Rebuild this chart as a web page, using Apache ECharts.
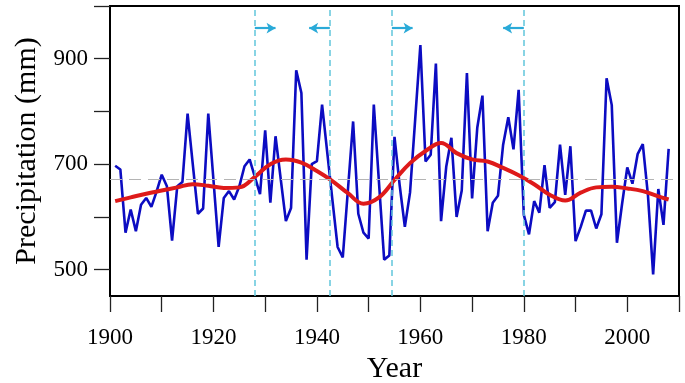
<!DOCTYPE html>
<html>
<head>
<meta charset="utf-8">
<script src="https://cdn.jsdelivr.net/npm/echarts@6/dist/echarts.min.js"></script>
<style>
  html, body { margin: 0; padding: 0; background: #fff; }
  #chart { width: 685px; height: 383px; }
</style>
</head>
<body>
<div id="chart"></div>
<script>
// annual precipitation, 1901 - 2008 (mm)
var firstYear = 1901;
var precip = [
  697, 690, 570, 614, 573, 623, 636, 619, 648, 680,
  658, 555, 658, 666, 796, 700, 606, 616, 796, 670,
  543, 636, 649, 633, 658, 696, 709, 676, 643, 764,
  627, 753, 672, 592, 617, 878, 835, 519, 700, 706,
  813, 722, 632, 543, 523, 652, 781, 606, 570, 559,
  813, 665, 519, 527, 752, 660, 581, 646, 785, 926,
  705, 718, 891, 592, 695, 750, 600, 650, 873, 635,
  769, 830, 573, 627, 640, 737, 789, 728, 841, 604,
  567, 630, 608, 698, 617, 628, 737, 642, 734, 554,
  581, 612, 612, 578, 605, 863, 812, 551, 625, 694,
  663, 719, 738, 641, 491, 653, 585, 729
];

// smoothed curve
var smoothYears = [1901, 1904, 1907, 1910, 1913, 1916, 1919, 1922, 1925, 1928,
  1931, 1934, 1937, 1940, 1943, 1946, 1949, 1952, 1955, 1958,
  1961, 1964, 1967, 1970, 1973, 1976, 1979, 1982, 1985, 1988,
  1991, 1994, 1997, 2000, 2003, 2006, 2008];
var smoothVals = [630, 637, 644, 650, 656, 662, 659, 655, 656, 676,
  700, 709, 703, 687, 668, 645, 625, 637, 670, 702,
  725, 740, 721, 709, 705, 693, 679, 662, 642, 631,
  646, 656, 657, 654, 649, 639, 633];

var meanPrecip = 671;
var changeYears = [1928, 1942.5, 1954.5, 1980];
var xTicks = [1900, 1910, 1920, 1930, 1940, 1950, 1960, 1970, 1980, 1990, 2000, 2010];
var xLabels = [1900, 1920, 1940, 1960, 1980, 2000];
var yTicks = [500, 600, 700, 800, 900, 1000];
var yLabels = [500, 700, 900];

var rawData = [];
for (var i = 0; i < precip.length; i++) {
  rawData.push([firstYear + i, precip[i]]);
}
var smoothData = [];
for (var j = 0; j < smoothYears.length; j++) {
  smoothData.push([smoothYears[j], smoothVals[j]]);
}

var arrowY = 958;
var arrowLen = 4;
var arrows = [];
for (var k = 0; k < changeYears.length; k++) {
  var dir = (k % 2 == 0) ? 1 : -1;
  arrows.push([
    { coord: [changeYears[k], arrowY] },
    { coord: [changeYears[k] + dir * arrowLen, arrowY] }
  ]);
}

var font = 'Liberation Serif';

var option = {
  animation: false,
  grid: {
    left: 110, right: 6, top: 6, bottom: 87,
    outerBoundsMode: 'none',
    show: true, borderColor: '#000', borderWidth: 2,
    backgroundColor: 'transparent'
  },
  xAxis: {
    type: 'value',
    min: 1900, max: 2010,
    name: 'Year',
    nameLocation: 'middle',
    nameGap: 58,
    nameTextStyle: { fontFamily: font, fontSize: 30, color: '#000' },
    axisLine: { show: true, lineStyle: { color: '#000', width: 2 } },
    axisTick: { show: true, length: 16, customValues: xTicks, lineStyle: { color: '#222', width: 1.3 } },
    axisLabel: {
      customValues: xLabels, margin: 30, fontFamily: font, fontSize: 23, color: '#000',
      formatter: function (v) { return String(v); }
    },
    splitLine: { show: false }
  },
  yAxis: {
    type: 'value',
    min: 450, max: 1000,
    name: 'Precipitation (mm)',
    nameLocation: 'middle',
    nameGap: 68,
    nameTextStyle: { fontFamily: font, fontSize: 30, color: '#000' },
    axisLine: { show: true, lineStyle: { color: '#000', width: 2 } },
    axisTick: { show: true, length: 16, customValues: yTicks, lineStyle: { color: '#222', width: 1.3 } },
    axisLabel: { customValues: yLabels, margin: 22, fontFamily: font, fontSize: 23, color: '#000' },
    splitLine: { show: false }
  },
  series: [
    {
      type: 'line',
      data: rawData,
      symbol: 'none',
      lineStyle: { color: '#0c0cc2', width: 2.6 },
      z: 3,
      markLine: {
        silent: true,
        symbol: 'none',
        label: { show: false },
        lineStyle: { color: '#b4b4b4', width: 1.2, type: [12, 7] },
        data: [{ yAxis: meanPrecip }]
      }
    },
    {
      type: 'line',
      data: smoothData,
      symbol: 'none',
      smooth: 0.4,
      lineStyle: { color: '#de1a1a', width: 4 },
      z: 4,
      markLine: {
        silent: true,
        symbol: 'none',
        label: { show: false },
        lineStyle: { color: '#62c6dc', width: 1.5, type: [6, 4] },
        data: changeYears.map(function (y) { return { xAxis: y }; })
      }
    },
    {
      type: 'line',
      data: [],
      markLine: {
        silent: true,
        symbol: ['none', 'arrow'],
        symbolSize: [8, 9],
        label: { show: false },
        lineStyle: { color: '#2aaad8', width: 2.2, type: 'solid' },
        itemStyle: { color: '#2aaad8' },
        data: arrows
      }
    }
  ]
};

var myChart = echarts.init(document.getElementById('chart'));
myChart.setOption(option);
</script>
</body>
</html>
